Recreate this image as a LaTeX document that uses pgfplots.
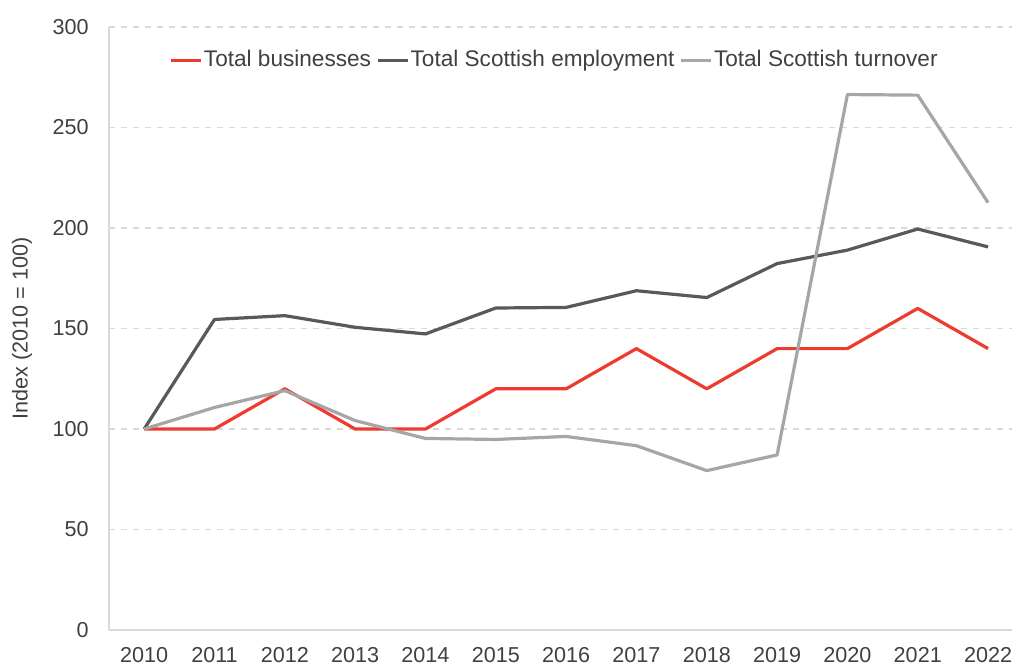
\documentclass[border=0pt]{standalone}
\usepackage{pgfplots}
\pgfplotsset{compat=1.18}
\usepackage{fontspec}
\setmainfont{Liberation Sans}
\definecolor{cred}{HTML}{EE3B2F}
\definecolor{cdark}{HTML}{595959}
\definecolor{cgray}{HTML}{A6A6A6}
\definecolor{ctext}{HTML}{404040}
\definecolor{cgrid}{HTML}{D9D9D9}
\begin{document}
\begin{tikzpicture}
\fontsize{10.8}{13}\selectfont
\begin{axis}[
  scale only axis,
  width=451.5pt, height=301.5pt,
  xmin=2009.5, xmax=2022.34,
  ymin=0, ymax=300,
  xtick={2010,2011,...,2022},
  ytick={0,50,...,300},
  /pgf/number format/assume math mode=true,
  /pgf/number format/1000 sep={},
  major tick length=0pt,
  axis x line*=bottom, axis y line*=left,
  axis line style={cgrid, line width=0.8pt},
  ymajorgrids,
  grid style={cgrid, dashed, line width=0.6pt},
  tick label style={color=ctext, font=\fontsize{10.8}{13}\selectfont},
  yticklabel style={xshift=-6.4pt},
  xticklabel style={yshift=-5pt},
  ylabel={Index (2010 = 100)},
  ylabel style={at={(rel axis cs:0,0.5)}, anchor=center, rotate=0, yshift=43.5pt, color=ctext, font=\fontsize{10.8}{13}\selectfont},
  legend columns=-1,
  legend style={at={(rel axis cs:0.493,0.945)}, anchor=center, draw=none, fill=none,
    font=\fontsize{11.3}{13}\selectfont, text=ctext,
    /tikz/every even column/.append style={column sep=2pt},
    nodes={inner xsep=0.6pt}},
  legend image code/.code={\draw[#1] (0pt,0pt) -- (15pt,0pt);},
  every axis plot/.append style={line width=1.6pt, line join=round},
]
\addplot[cred] coordinates {(2010,100)(2011,100)(2012,120)(2013,100)(2014,100)(2015,120)(2016,120)(2017,140)(2018,120)(2019,140)(2020,140)(2021,160)(2022,140)};
\addlegendentry{Total businesses}
\addplot[cdark] coordinates {(2010,100)(2011,154.5)(2012,156.4)(2013,150.6)(2014,147.3)(2015,160.2)(2016,160.5)(2017,168.8)(2018,165.4)(2019,182.3)(2020,189.0)(2021,199.5)(2022,190.6)};
\addlegendentry{Total Scottish employment}
\addplot[cgray] coordinates {(2010,100)(2011,110.7)(2012,119.1)(2013,104.2)(2014,95.3)(2015,94.8)(2016,96.3)(2017,91.7)(2018,79.3)(2019,87.1)(2020,266.4)(2021,266.1)(2022,212.6)};
\addlegendentry{Total Scottish turnover}
\end{axis}
\pgfresetboundingbox
\path (current axis.south west) ++(-54.5pt,-18pt) coordinate (bl);
\path (current axis.south west) ++(451.5pt,315pt) coordinate (tr);
\path[use as bounding box] (bl) rectangle (tr);
\end{tikzpicture}
\end{document}
